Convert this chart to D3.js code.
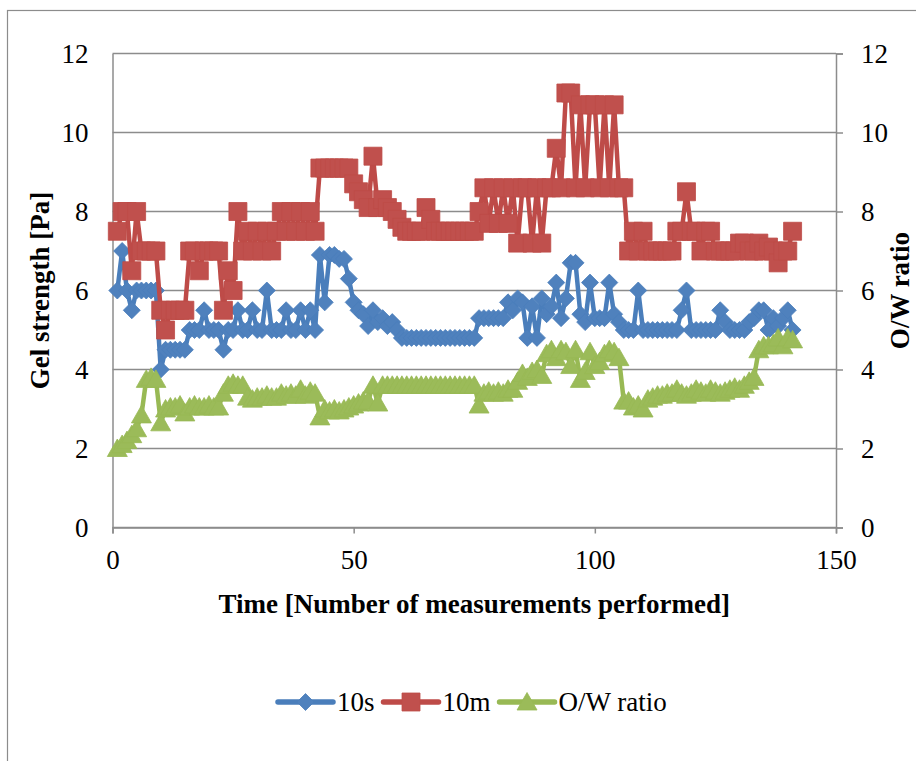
<!DOCTYPE html>
<html>
<head>
<meta charset="utf-8">
<script src="https://cdn.jsdelivr.net/npm/d3@7/dist/d3.min.js"></script>
<style>
  body { margin: 0; background: #fff; }
  text { font-family: "Liberation Serif", "DejaVu Serif", serif; fill: #000; }
</style>
</head>
<body>
<div id="chart"></div>
<script>
// measurement number (x) 1..141
var measurements = d3.range(1, 142);

// gel strength after 10 s [Pa]
var gel10s = [
  6.0, 7.0, 6.0, 5.5, 6.0, 6.0, 6.0, 6.0, 6.0, 4.0,
  4.5, 4.5, 4.5, 4.5, 4.5, 5.0, 5.0, 5.0, 5.5, 5.0,
  5.0, 5.0, 4.5, 5.0, 5.0, 5.5, 5.0, 5.0, 5.5, 5.0,
  5.0, 6.0, 5.0, 5.0, 5.0, 5.5, 5.0, 5.0, 5.5, 5.0,
  5.5, 5.0, 6.9, 5.7, 6.9, 6.9, 6.8, 6.8, 6.3, 5.7,
  5.5, 5.4, 5.1, 5.5, 5.2, 5.3, 5.1, 5.2, 5.0, 4.8,
  4.8, 4.8, 4.8, 4.8, 4.8, 4.8, 4.8, 4.8, 4.8, 4.8,
  4.8, 4.8, 4.8, 4.8, 4.8, 5.3, 5.3, 5.3, 5.3, 5.3,
  5.3, 5.7, 5.5, 5.8, 5.7, 4.8, 5.6, 4.8, 5.8, 5.4,
  5.6, 6.2, 5.3, 5.8, 6.7, 6.7, 5.4, 5.2, 6.2, 5.3,
  5.3, 5.3, 6.2, 5.4, 5.2, 5.0, 5.0, 5.0, 6.0, 5.0,
  5.0, 5.0, 5.0, 5.0, 5.0, 5.0, 5.0, 5.5, 6.0, 5.0,
  5.0, 5.0, 5.0, 5.0, 5.0, 5.5, 5.2, 5.0, 5.0, 5.0,
  5.0, 5.2, 5.3, 5.5, 5.5, 5.0, 5.3, 5.1, 5.3, 5.5,
  5.0
];

// gel strength after 10 min [Pa]
var gel10m = [
  7.5, 8.0, 8.0, 6.5, 8.0, 7.0, 7.0, 7.0, 7.0, 5.5,
  5.0, 5.5, 5.5, 5.5, 5.5, 7.0, 7.0, 6.5, 7.0, 7.0,
  7.0, 7.0, 5.5, 6.5, 6.0, 8.0, 7.0, 7.5, 7.0, 7.5,
  7.0, 7.5, 7.0, 7.5, 8.0, 7.5, 8.0, 7.5, 8.0, 7.5,
  8.0, 7.5, 9.1, 9.1, 9.1, 9.1, 9.1, 9.1, 9.1, 8.7,
  8.5, 8.3, 8.1, 9.4, 8.1, 8.3, 8.1, 8.0, 7.8, 7.6,
  7.5, 7.5, 7.5, 7.5, 8.1, 7.8, 7.5, 7.5, 7.5, 7.5,
  7.5, 7.5, 7.5, 7.5, 7.5, 8.0, 8.6, 7.7, 8.6, 7.7,
  8.6, 7.7, 8.6, 7.2, 8.6, 8.6, 7.2, 8.6, 7.2, 8.6,
  8.6, 9.6, 8.6, 11.0, 11.0, 8.6, 10.7, 8.6, 10.7, 10.7,
  8.6, 10.7, 8.6, 10.7, 8.6, 8.6, 7.0, 7.5, 7.0, 7.5,
  7.0, 7.0, 7.0, 7.0, 7.0, 7.0, 7.5, 7.5, 8.5, 7.5,
  7.5, 7.0, 7.5, 7.5, 7.0, 7.0, 7.0, 7.0, 7.0, 7.2,
  7.2, 7.0, 7.0, 7.2, 7.0, 7.1, 7.0, 6.7, 7.0, 7.0,
  7.5
];

// oil/water ratio (secondary axis)
var owRatio = [
  2.0, 2.1, 2.2, 2.35, 2.5, 2.85, 3.75, 3.8, 3.75, 2.65,
  3.0, 3.05, 3.05, 3.1, 2.9, 3.05, 3.1, 3.05, 3.05, 3.1,
  3.05, 3.05, 3.4, 3.6, 3.65, 3.6, 3.6, 3.3, 3.25, 3.3,
  3.3, 3.35, 3.3, 3.3, 3.4, 3.35, 3.4, 3.35, 3.5, 3.35,
  3.45, 3.4, 2.8, 3.0, 2.95, 3.0, 2.95, 3.0, 3.05, 3.1,
  3.15, 3.2, 3.2, 3.6, 3.15, 3.6, 3.6, 3.6, 3.6, 3.6,
  3.6, 3.6, 3.6, 3.6, 3.6, 3.6, 3.6, 3.6, 3.6, 3.6,
  3.6, 3.6, 3.6, 3.6, 3.6, 3.1, 3.4, 3.45, 3.4, 3.45,
  3.4, 3.5, 3.5, 3.7, 3.9, 3.8, 3.95, 4.0, 3.85, 4.4,
  4.5, 4.3, 4.5, 4.45, 4.1, 4.5, 3.75, 3.95, 4.45, 4.1,
  4.2, 4.4, 4.5, 4.45, 4.3, 3.2, 3.2, 3.05, 3.1, 3.0,
  3.25, 3.3, 3.35, 3.35, 3.4, 3.4, 3.5, 3.4, 3.35, 3.4,
  3.5, 3.45, 3.4, 3.5, 3.45, 3.4, 3.45, 3.5, 3.55, 3.5,
  3.6, 3.7, 3.8, 4.5, 4.6, 4.6, 4.65, 4.8, 4.6, 4.8,
  4.75
];

var yTicks = [0, 2, 4, 6, 8, 10, 12];
var xTicks = [0, 50, 100, 150];
var seriesNames = ["10s", "10m", "O/W ratio"];

var width = 916, height = 761;
var margin = {top: 53.5, right: 80, bottom: 233.5, left: 112.5};

var svg = d3.select("#chart").append("svg")
  .attr("width", width)
  .attr("height", height);

// chart area border (runs off the right/bottom edge like the source)
svg.append("rect")
  .attr("x", 7.5).attr("y", 10.5)
  .attr("width", 1000).attr("height", 1000)
  .attr("fill", "none")
  .attr("stroke", "#8c8c8c")
  .attr("stroke-width", 1.2);

var x = d3.scaleLinear().domain([0, 150]).range([margin.left, width - margin.right]);
var y = d3.scaleLinear().domain([0, 12]).range([height - margin.bottom, margin.top]);
var y2 = d3.scaleLinear().domain([0, 12]).range([height - margin.bottom, margin.top]);

// gridlines
svg.append("g").selectAll("line")
  .data(yTicks)
  .enter()
  .append("line")
  .attr("x1", x(0)).attr("x2", x(150))
  .attr("y1", function(d){ return y(d) })
  .attr("y2", function(d){ return y(d) })
  .attr("stroke", "#8c8c8c")
  .attr("stroke-width", 1.5);

// axes
var yAxis = svg.append("g")
  .attr("transform", "translate(" + x(0) + ",0)")
  .call(d3.axisLeft(y).tickValues(yTicks).tickSize(0).tickPadding(24));

var y2Axis = svg.append("g")
  .attr("transform", "translate(" + x(150) + ",0)")
  .call(d3.axisRight(y2).tickValues(yTicks).tickSize(7).tickPadding(18));

var xAxis = svg.append("g")
  .attr("transform", "translate(0," + y(0) + ")")
  .call(d3.axisBottom(x).tickValues(xTicks).tickSize(6).tickPadding(16));

[yAxis, y2Axis, xAxis].forEach(function(g){
  g.selectAll(".domain").attr("stroke", "#8c8c8c").attr("stroke-width", 1.5);
  g.selectAll(".tick line").attr("stroke", "#8c8c8c").attr("stroke-width", 1.5);
  g.selectAll("text")
    .attr("font-family", "Liberation Serif, serif")
    .attr("font-size", 27)
    .attr("fill", "#000");
});

// axis titles
svg.append("text")
  .attr("x", (x(0) + x(150)) / 2 + 0)
  .attr("y", 613)
  .attr("text-anchor", "middle")
  .attr("font-size", 27)
  .attr("font-weight", "bold")
  .text("Time [Number of measurements performed]");

svg.append("text")
  .attr("transform", "translate(49," + y(6) + ") rotate(-90)")
  .attr("text-anchor", "middle")
  .attr("font-size", 27)
  .attr("font-weight", "bold")
  .text("Gel strength [Pa]");

svg.append("text")
  .attr("transform", "translate(909," + y(6) + ") rotate(-90)")
  .attr("text-anchor", "middle")
  .attr("font-size", 27)
  .attr("font-weight", "bold")
  .text("O/W ratio");

// marker shapes
function diamond(){ return "M0,-8.5L8.5,0L0,8.5L-8.5,0Z" }
function square(){ return "M-9,-9h18v18h-18Z" }
function triangle(){ return "M0,-9.5L10,8H-10Z" }

var series = [
  {name: seriesNames[0], values: gel10s, scale: y, line: "#4a7ebb", fill: "#4f81bd", marker: diamond},
  {name: seriesNames[1], values: gel10m, scale: y, line: "#be4b48", fill: "#c0504d", marker: square},
  {name: seriesNames[2], values: owRatio, scale: y2, line: "#98b954", fill: "#9bbb59", marker: triangle}
];

series.forEach(function(s){
  var pts = measurements.map(function(m, i){ return [m, s.values[i]] });
  var line = d3.line()
    .x(function(d){ return x(d[0]) })
    .y(function(d){ return s.scale(d[1]) });

  svg.append("path")
    .datum(pts)
    .attr("d", line)
    .attr("fill", "none")
    .attr("stroke", s.line)
    .attr("stroke-width", 4.5)
    .attr("stroke-linejoin", "round");

  svg.append("g").selectAll("path")
    .data(pts)
    .enter()
    .append("path")
    .attr("d", s.marker)
    .attr("transform", function(d){ return "translate(" + x(d[0]) + "," + s.scale(d[1]) + ")" })
    .attr("fill", s.fill)
    .attr("stroke", s.line)
    .attr("stroke-width", 0.8);
});

// legend
var legend = svg.append("g");
var lx = 278, ly = 702;
series.forEach(function(s){
  legend.append("line")
    .attr("x1", lx).attr("x2", lx + 55)
    .attr("y1", ly).attr("y2", ly)
    .attr("stroke", s.line)
    .attr("stroke-width", 5.5)
    .attr("stroke-linecap", "round");
  legend.append("path")
    .attr("d", s.marker)
    .attr("transform", "translate(" + (lx + 27.5) + "," + ly + ")")
    .attr("fill", s.fill)
    .attr("stroke", s.line)
    .attr("stroke-width", 0.8);
  var t = legend.append("text")
    .attr("x", lx + 59)
    .attr("y", ly + 9)
    .attr("font-size", 27)
    .text(s.name);
  lx = lx + 59 + t.node().getComputedTextLength() + 9;
});
</script>
</body>
</html>
